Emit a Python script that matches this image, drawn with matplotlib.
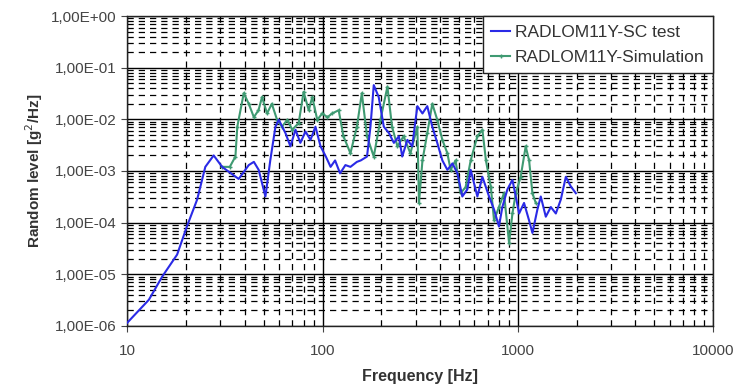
"""Random vibration level: SC test vs simulation."""
import matplotlib
matplotlib.use('Agg')
import matplotlib.pyplot as plt
from matplotlib.ticker import FuncFormatter, LogLocator, NullFormatter

plt.rcParams['font.family'] = ['Liberation Sans', 'DejaVu Sans']

# SC test (blue)
test_freq = [10, 12.9, 15.1, 18, 20.2, 22.8, 25.1, 27.7, 30.6, 37.2, 41.9, 44.5,
             47.1, 51, 54, 57.4, 59.7, 64.6, 68.5, 72.7, 77, 81.8, 86.8, 92, 97.7,
             104, 110, 116, 123, 131, 139, 150, 157, 169, 176, 183, 194, 206, 219,
             232, 246, 256, 272, 288, 306, 325, 344, 365, 387, 411, 436, 463, 491,
             520, 552, 574, 621, 659, 713, 756, 801, 834, 885, 939, 977, 1016, 1077,
             1143, 1189, 1261, 1312, 1392, 1477, 1567, 1662, 1763, 1871, 1984]
test_level = [1.15e-6, 3.2e-6, 9e-6, 2.4e-5, 8.4e-5, 2.8e-4, 1.2e-3, 2.0e-3, 1.2e-3,
              7.0e-4, 1.3e-3, 1.5e-3, 1.05e-3, 3.2e-4, 1.6e-3, 7.2e-3, 9.8e-3, 5.4e-3,
              3.0e-3, 6.3e-3, 3.5e-3, 5.8e-3, 4.0e-3, 7.2e-3, 3.0e-3, 1.9e-3, 1.2e-3,
              1.6e-3, 9e-4, 1.3e-3, 1.2e-3, 1.5e-3, 1.6e-3, 1.9e-3, 7.2e-3, 4.6e-2,
              2.7e-2, 7.2e-3, 5.4e-3, 3.5e-3, 4.7e-3, 1.9e-3, 4.0e-3, 3.0e-3, 1.8e-2,
              1.3e-2, 1.8e-2, 7.2e-3, 3.5e-3, 1.6e-3, 1.05e-3, 1.4e-3, 9e-4, 3.2e-4,
              4.4e-4, 1.05e-3, 3.2e-4, 7.7e-4, 3.2e-4, 1.8e-4, 8.4e-5, 2.0e-4, 4.4e-4,
              6.7e-4, 3.2e-4, 1.5e-4, 2.4e-4, 1.1e-4, 6.3e-5, 1.8e-4, 3.2e-4, 1.3e-4,
              2.0e-4, 1.5e-4, 2.8e-4, 7.7e-4, 5.0e-4, 3.7e-4]

# Simulation (green)
sim_freq = [30.5, 33.5, 35.8, 36.6, 39.5, 41.9, 44.5, 47, 49, 52, 55, 58.5, 62, 66,
            70, 75.5, 80, 85, 88.6, 94, 99.7, 106, 112, 121, 128, 139, 150, 159,
            169, 183, 198, 215, 227, 242, 260, 282, 306, 312, 325, 344, 365, 387,
            411, 436, 453, 480, 510, 541, 574, 621, 659, 687, 728, 756, 801, 850,
            903, 939, 977, 1035, 1098, 1143, 1189, 1237]
sim_level = [1.2e-3, 1.2e-3, 1.9e-3, 7.2e-3, 3.2e-2, 2.0e-2, 1.1e-2, 1.5e-2, 2.7e-2,
             1.3e-2, 2.0e-2, 9.8e-3, 7.2e-3, 9.8e-3, 6.3e-3, 8.5e-3, 3.4e-2, 1.5e-2,
             2.7e-2, 9.8e-3, 1.3e-2, 1.1e-2, 1.3e-2, 1.5e-2, 4.7e-3, 2.2e-3, 7.2e-3,
             3.2e-2, 4.7e-3, 1.9e-3, 9.8e-3, 4.3e-2, 7.2e-3, 3.0e-3, 4.7e-3, 2.2e-3,
             7.2e-3, 2.4e-4, 1.6e-3, 5.4e-3, 2.0e-2, 9.8e-3, 4.0e-3, 2.2e-3, 1.05e-3,
             1.6e-3, 3.7e-4, 4.9e-4, 1.6e-3, 4.7e-3, 6.3e-3, 1.6e-3, 4.9e-4, 1.1e-4,
             2.0e-4, 3.7e-4, 4.0e-5, 1.5e-4, 3.7e-4, 7.7e-4, 3.0e-3, 1.6e-3, 3.7e-4,
             2.4e-4]

fig = plt.figure(figsize=(7.4, 3.87), dpi=100)
ax = fig.add_axes([0.172, 0.158, 0.7915, 0.8005])

ax.plot(test_freq, test_level, color='#2a2ae6', lw=1.5, label='RADLOM11Y-SC test', zorder=4)
ax.plot(sim_freq, sim_level, color='#3f9a72', lw=1.5, marker='+', ms=2.5,
        label='RADLOM11Y-Simulation', zorder=3)

ax.set_xscale('log')
ax.set_yscale('log')
ax.set_xlim(10, 10000)
ax.set_ylim(1e-6, 1)

ax.yaxis.set_major_locator(LogLocator(base=10, numticks=10))
ax.yaxis.set_minor_locator(LogLocator(base=10, subs=range(2, 10), numticks=20))
ax.xaxis.set_minor_locator(LogLocator(base=10, subs=range(2, 10), numticks=20))
ax.yaxis.set_major_formatter(FuncFormatter(lambda v, p: ('%.2E' % v).replace('.', ',')))
ax.xaxis.set_major_formatter(FuncFormatter(lambda v, p: '%d' % v))
ax.yaxis.set_minor_formatter(NullFormatter())
ax.xaxis.set_minor_formatter(NullFormatter())

ax.grid(which='major', color='black', lw=1.0, ls='-')
ax.grid(which='minor', color='black', lw=0.9, ls=(0, (5, 4)))
ax.set_axisbelow(True)
ax.tick_params(which='minor', length=0)
ax.tick_params(which='major', length=4, labelsize=11, colors='#444444')
ax.tick_params(axis='x', which='major', pad=9)
ax.tick_params(axis='y', which='major', pad=4)
for s in ax.spines.values():
    s.set_color('#222222')
    s.set_linewidth(1.0)

ax.set_xlabel('Frequency [Hz]', fontsize=11.5, fontweight='bold', color='#333333',
              labelpad=8)
ax.set_ylabel('Random level [g$^2$/Hz]', fontsize=11, fontweight='bold', color='#333333',
              labelpad=4)

leg = ax.legend(loc='upper right', fontsize=12.5, frameon=True, fancybox=False,
                borderaxespad=0.0, handlelength=1.1, handletextpad=0.25,
                labelspacing=0.55, borderpad=0.5)
leg.get_frame().set_edgecolor('#222222')
leg.get_frame().set_linewidth(1.0)
leg.get_frame().set_alpha(1)
for t in leg.get_texts():
    t.set_color('#333333')

fig.savefig('out.png', dpi=100)
plt.close(fig)
